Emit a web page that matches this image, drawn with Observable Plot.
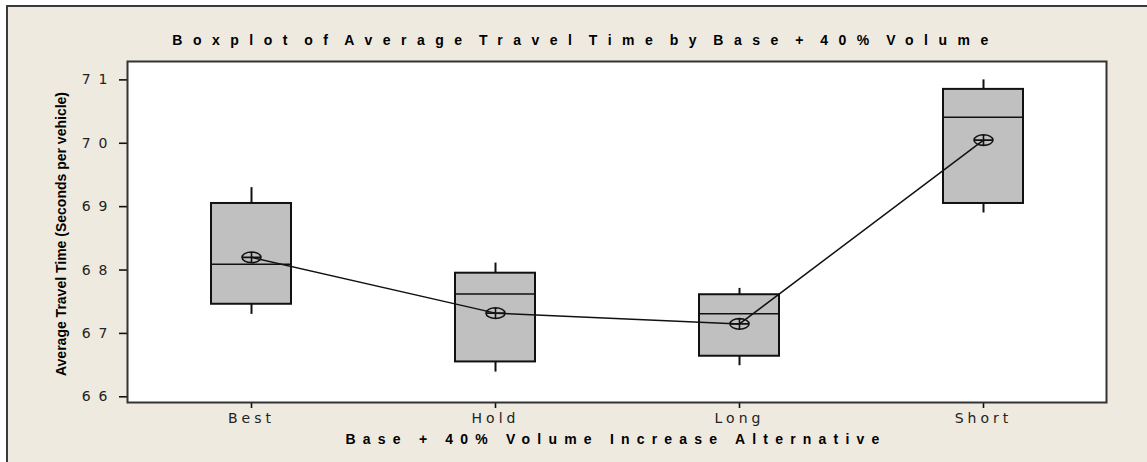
<!DOCTYPE html>
<html>
<head>
<meta charset="utf-8">
<script src="https://cdn.jsdelivr.net/npm/d3@7"></script>
<script src="https://cdn.jsdelivr.net/npm/@observablehq/plot@0.6"></script>
<style>
  html, body { margin: 0; padding: 0; background: #ffffff; }
  body { width: 1147px; height: 462px; overflow: hidden; position: relative; }
  #page {
    position: absolute; left: 6px; top: 5px; width: 1141px; height: 457px;
    background: #EEEAE0; border-top: 2px solid #3a3a3a; border-left: 2px solid #3a3a3a;
    box-sizing: border-box;
  }
  #title {
    height: 50px; box-sizing: border-box; padding-top: 25px; padding-left: 16px;
    line-height: 15px; text-align: center; white-space: nowrap;
    font: bold 14px "Liberation Sans", Arial, sans-serif; color: #000;
    letter-spacing: 10.5px; word-spacing: -8px;
  }
  #chart svg { display: block; }
  g[aria-label="x-axis tick label"] { font-family: "DejaVu Sans", sans-serif; font-size: 14px; letter-spacing: 4px; }
  g[aria-label="y-axis tick label"] { font-family: "DejaVu Sans", sans-serif; font-size: 14px; letter-spacing: 8px; }
</style>
</head>
<body>
<div id="page">
  <div id="title">Boxplot of Average Travel Time by Base + 40% Volume</div>
  <div id="chart"></div>
</div>
<script>
// Alternatives and their box-plot statistics (seconds per vehicle)
const categories = ["Best", "Hold", "Long", "Short"];
const whiskerLow = [67.30, 66.39, 66.49, 68.90];
const quartile1 = [67.46, 66.55, 66.64, 69.05];
const medians = [68.09, 67.62, 67.31, 70.41];
const quartile3 = [69.05, 67.95, 67.61, 70.85];
const whiskerHigh = [69.30, 68.11, 67.71, 71.00];
const means = [68.20, 67.32, 67.15, 70.05];
const yTicks = [66, 67, 68, 69, 70, 71];
const xTitle = "Base + 40% Volume Increase Alternative";
const yTitle = "Average Travel Time (Seconds per vehicle)";

const rows = categories.map((cat, i) => ({
  cat,
  lo: whiskerLow[i],
  q1: quartile1[i],
  med: medians[i],
  q3: quartile3[i],
  hi: whiskerHigh[i],
  mean: means[i]
}));

// Mean marker: a flattened circle with a cross through it
const meanSymbol = {
  draw(context, size) {
    const rx = Math.sqrt(size / Math.PI);
    const ry = rx * 0.56;
    const k = 0.5523;
    context.moveTo(rx, 0);
    context.bezierCurveTo(rx, k * ry, k * rx, ry, 0, ry);
    context.bezierCurveTo(-k * rx, ry, -rx, k * ry, -rx, 0);
    context.bezierCurveTo(-rx, -k * ry, -k * rx, -ry, 0, -ry);
    context.bezierCurveTo(k * rx, -ry, rx, -k * ry, rx, 0);
    context.closePath();
    context.moveTo(-rx, 0);
    context.lineTo(rx, 0);
    context.moveTo(0, -ry);
    context.lineTo(0, ry);
  }
};

const ink = "#111";

const chart = Plot.plot({
  width: 1139,
  height: 400,
  marginLeft: 119,
  marginRight: 41,
  marginTop: 4,
  marginBottom: 55,
  style: { background: "transparent", color: ink, fontFamily: "'Liberation Sans', Arial, sans-serif", overflow: "visible" },
  x: { type: "band", domain: categories, paddingInner: 0.673, paddingOuter: 0.3365 },
  y: { domain: [65.91, 71.29] },
  marks: [
    Plot.frame({ fill: "white" }),
    Plot.ruleX(rows, { x: "cat", y1: "lo", y2: "q1", stroke: ink, strokeWidth: 2 }),
    Plot.ruleX(rows, { x: "cat", y1: "q3", y2: "hi", stroke: ink, strokeWidth: 2 }),
    Plot.barY(rows, { x: "cat", y1: "q1", y2: "q3", fill: "#C0C0C0", stroke: ink, strokeWidth: 2 }),
    Plot.tickY(rows, { x: "cat", y: "med", stroke: ink, strokeWidth: 1.5 }),
    Plot.line(rows, { x: "cat", y: "mean", stroke: ink, strokeWidth: 1.5 }),
    Plot.dot(rows, { x: "cat", y: "mean", symbol: meanSymbol, r: 9.5, fill: "none", stroke: ink, strokeWidth: 1.6 }),
    Plot.axisX({ tickSize: 6, tickPadding: 5, strokeWidth: 1.6, label: null, fill: "#222" }),
    Plot.axisY({ ticks: yTicks, tickSize: 8, tickPadding: 4, strokeWidth: 1.6, label: null, fill: "#222", tickFormat: d => String(d) }),
    Plot.text([xTitle], {
      text: d => d, frameAnchor: "bottom", dy: 37, dx: -1, textAnchor: "middle", lineAnchor: "middle",
      fontWeight: "bold", fontSize: 14, fill: "#000"
    }),
    Plot.text([yTitle], {
      text: d => d, frameAnchor: "left", dx: -66, dy: 2, rotate: -90, textAnchor: "middle", lineAnchor: "middle",
      fontWeight: "bold", fontSize: 14, fill: "#000"
    }),
    Plot.frame({ stroke: "#333", strokeWidth: 2 })
  ]
});

// Spread out the letters of the horizontal axis title
d3.select(chart).selectAll("text")
  .filter(function () { return this.textContent === xTitle; })
  .style("letter-spacing", "7.2px");

document.getElementById("chart").appendChild(chart);
</script>
</body>
</html>
